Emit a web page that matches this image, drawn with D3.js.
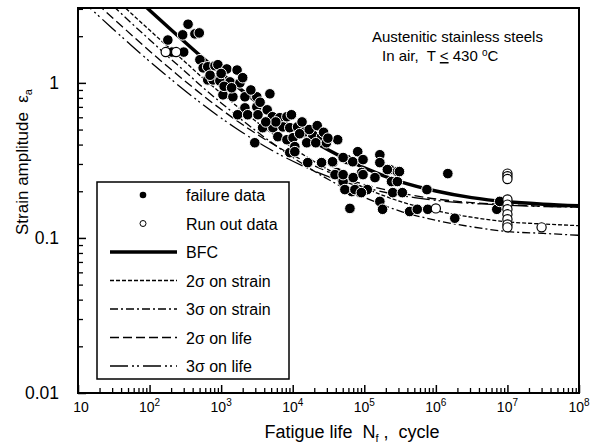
<!DOCTYPE html>
<html>
<head>
<meta charset="utf-8">
<script src="https://cdn.jsdelivr.net/npm/d3@7"></script>
<style>
  body { margin: 0; background: #fff; }
  svg text { font-family: Arial, "Liberation Sans", sans-serif; fill: #000; white-space: pre; }
</style>
</head>
<body>
<svg id="chart" width="598" height="446"></svg>
<script>
// failure data: [cycles, strain amplitude %]
const failureData = [
  [180, 1.89], [290, 2.04], [345, 2.39], [430, 2.07], [495, 2.1],
  [205, 1.58], [300, 1.58], [505, 1.41],
  [560, 1.25], [650, 1.27], [820, 1.29], [900, 1.31], [1200, 1.23], [1670, 1.21],
  [650, 1.045], [770, 1.045], [960, 1.03], [1330, 1.015], [1830, 1.0],
  [1060, 0.837], [1460, 0.813], [2150, 0.813], [3150, 0.813], [4800, 0.85],
  [2150, 0.69], [3150, 0.7], [1700, 0.623], [2350, 0.623], [3270, 0.623], [4400, 0.67],
  [5200, 0.605], [6600, 0.596], [8300, 0.605],
  [3800, 0.514], [5300, 0.514], [7300, 0.52], [9100, 0.514],
  [2950, 0.411], [6200, 0.45], [8300, 0.43], [10100, 0.443], [9100, 0.355], [10700, 0.388],
  [9600, 0.623], [11700, 0.52], [14800, 0.484], [19000, 0.463], [25300, 0.45],
  [15700, 0.411], [21000, 0.411], [29600, 0.411], [42500, 0.43], [10700, 0.36],
  [16200, 0.306], [25300, 0.306], [36500, 0.306], [58000, 0.32], [69000, 0.31], [81000, 0.36],
  [165000, 0.344], [165000, 0.306], [228000, 0.276], [290000, 0.268],
  [41500, 0.264], [50600, 0.231], [67000, 0.199], [87000, 0.196], [110000, 0.205],
  [92000, 0.264], [141000, 0.245], [240000, 0.231], [250000, 0.196],
  [63000, 0.155], [165000, 0.172], [180000, 0.153], [430000, 0.148], [550000, 0.153], [770000, 0.153],
  [750000, 0.205], [1.47e6, 0.26], [1.84e6, 0.134], [7.1e6, 0.153], [7.8e6, 0.172],
  [36000, 0.31], [50600, 0.33], [96000, 0.32], [39000, 0.256], [50600, 0.256], [70000, 0.245], [96000, 0.256],
  [53600, 0.205], [74000, 0.205], [91000, 0.196], [210000, 0.276], [290000, 0.231], [310000, 0.268], [340000, 0.196],
  [1100, 0.95], [1400, 0.93], [2600, 0.9], [3500, 0.75], [5800, 0.56],
  [12500, 0.47], [17000, 0.5], [22000, 0.53], [27000, 0.48], [31000, 0.44],
  [700, 1.12], [1000, 1.15], [2000, 1.08], [4200, 0.56], [13500, 0.56]
];

const runOutData = [
  [168, 1.58], [235, 1.58],
  [1e6, 0.155],
  [1e7, 0.26], [1e7, 0.25], [1e7, 0.24],
  [1e7, 0.177], [1e7, 0.164], [1e7, 0.153], [1e7, 0.142], [1e7, 0.132], [1e7, 0.122], [1e7, 0.117],
  [3e7, 0.117]
];

// curves
const curveN = [10, 17.8, 31.6, 56.2, 100, 178, 316, 562, 1e3, 3.16e3, 1e4, 3.16e4, 1e5, 3.16e5, 1e6, 3.16e6, 1e7, 3.16e7, 1e8];
const bfcStrain = [7.93, 6.17, 4.81, 3.75, 2.94, 2.31, 1.82, 1.44, 1.15, 0.751, 0.512, 0.369, 0.283, 0.231, 0.201, 0.182, 0.171, 0.165, 0.161];
const strain2Sigma = [5.91, 4.6, 3.58, 2.79, 2.19, 1.72, 1.36, 1.07, 0.857, 0.559, 0.381, 0.275, 0.211, 0.172, 0.15, 0.136, 0.127, 0.123, 0.12];
const strain3Sigma = [5.12, 3.99, 3.11, 2.42, 1.9, 1.49, 1.18, 0.93, 0.743, 0.485, 0.331, 0.238, 0.183, 0.149, 0.13, 0.118, 0.11, 0.107, 0.104];

const life2N = [10, 23.3, 41.4, 73.5, 131, 233, 735, 2330, 7350, 23300, 73500, 2.33e5, 7.35e5, 2.33e6, 7.35e6, 2.33e7, 1e8];
const life2Strain = [4.22, 2.94, 2.31, 1.82, 1.44, 1.15, 0.751, 0.512, 0.369, 0.283, 0.231, 0.201, 0.182, 0.171, 0.165, 0.161, 0.158];
const life3N = [10, 15.9, 28.2, 50.2, 89.2, 159, 502, 1590, 5020, 15900, 50200, 1.59e5, 5.02e5, 1.59e6, 5.02e6, 1.59e7, 1e8];
const life3Strain = [3.57, 2.94, 2.31, 1.82, 1.44, 1.15, 0.751, 0.512, 0.369, 0.283, 0.231, 0.201, 0.182, 0.171, 0.165, 0.161, 0.158];

const xTickValues = [1e1, 1e2, 1e3, 1e4, 1e5, 1e6, 1e7, 1e8];
const xTickExponents = ["", "2", "3", "4", "5", "6", "7", "8"];
const yTickValues = [0.01, 0.1, 1];
const yTickLabels = ["0.01", "0.1", "1"];
const legendLabels = ["failure data", "Run out data", "BFC", "2σ on strain", "3σ on strain", "2σ on life", "3σ on life"];

const width = 598;
const height = 446;
const margin = { top: 8, right: 19, bottom: 53, left: 78 };

const xScale = d3.scaleLog().domain([10, 1e8]).range([margin.left, width - margin.right]);
const yScale = d3.scaleLog().domain([0.01, 3.04]).range([height - margin.bottom, margin.top]);

const svg = d3.select("#chart");
svg.append("rect").attr("width", width).attr("height", height).attr("fill", "#fff");

svg.append("clipPath")
  .attr("id", "plotClip")
  .append("rect")
  .attr("x", margin.left)
  .attr("y", margin.top)
  .attr("width", width - margin.left - margin.right)
  .attr("height", height - margin.top - margin.bottom);

// minor tick values per decade
const minorX = [];
for (let e = 1; e < 8; e++) for (let m = 2; m <= 9; m++) minorX.push(m * 10 ** e);
const minorY = [];
for (let e = -2; e < 1; e++) for (let m = 2; m <= 9; m++) if (m * 10 ** e < 3.04) minorY.push(m * 10 ** e);

const xAxisY = height - margin.bottom;

svg.append("g")
  .attr("transform", `translate(0,${xAxisY})`)
  .call(d3.axisBottom(xScale).tickValues(xTickValues).tickSize(-8).tickFormat(""))
  .call((g) => g.select(".domain").remove())
  .selectAll("line").attr("stroke", "#000").attr("stroke-width", 1.5);

svg.append("g")
  .attr("transform", `translate(0,${xAxisY})`)
  .call(d3.axisBottom(xScale).tickValues(minorX).tickSize(-5).tickFormat(""))
  .call((g) => g.select(".domain").remove())
  .selectAll("line").attr("stroke", "#000").attr("stroke-width", 1.3);

svg.append("g")
  .attr("transform", `translate(${margin.left},0)`)
  .call(d3.axisLeft(yScale).tickValues(yTickValues).tickSize(-8).tickFormat(""))
  .call((g) => g.select(".domain").remove())
  .selectAll("line").attr("stroke", "#000").attr("stroke-width", 1.5);

svg.append("g")
  .attr("transform", `translate(${margin.left},0)`)
  .call(d3.axisLeft(yScale).tickValues(minorY).tickSize(-5).tickFormat(""))
  .call((g) => g.select(".domain").remove())
  .selectAll("line").attr("stroke", "#000").attr("stroke-width", 1.3);

// y tick labels
svg.append("g")
  .selectAll("text")
  .data(yTickValues)
  .enter()
  .append("text")
  .attr("x", 59)
  .attr("y", (d) => yScale(d) + 6)
  .attr("text-anchor", "end")
  .style("font-size", "17.5px")
  .text((d, i) => yTickLabels[i]);

// x tick labels with superscript exponents
const xLabels = svg.append("g")
  .selectAll("text")
  .data(xTickValues)
  .enter()
  .append("text")
  .attr("x", (d, i) => xScale(d) + (i === 0 ? 3 : 0))
  .attr("y", 412)
  .attr("text-anchor", "middle")
  .style("font-size", "14px");
xLabels.append("tspan").text("10");
xLabels.append("tspan")
  .attr("dy", -6)
  .style("font-size", "10px")
  .text((d, i) => xTickExponents[i]);

// curves
const line = d3.line()
  .x((d) => xScale(d[0]))
  .y((d) => yScale(d[1]))
  .curve(d3.curveMonotoneX);

const curves = [
  { pts: curveN.map((n, i) => [n, strain2Sigma[i]]), dash: "4,2", w: 1.3 },
  { pts: curveN.map((n, i) => [n, strain3Sigma[i]]), dash: "8,3,2,3", w: 1.3 },
  { pts: life2N.map((n, i) => [n, life2Strain[i]]), dash: "9,4", w: 1.3 },
  { pts: life3N.map((n, i) => [n, life3Strain[i]]), dash: "18,4,2,3,2,4", w: 1.3 },
  { pts: curveN.map((n, i) => [n, bfcStrain[i]]), dash: null, w: 3.5 }
];

svg.append("g")
  .attr("clip-path", "url(#plotClip)")
  .selectAll("path")
  .data(curves)
  .enter()
  .append("path")
  .attr("d", (d) => line(d.pts))
  .attr("fill", "none")
  .attr("stroke", "#000")
  .attr("stroke-width", (d) => d.w)
  .attr("stroke-dasharray", (d) => d.dash);

// data points
const pts = svg.append("g").attr("clip-path", "url(#plotClip)");
pts.selectAll("circle.fail")
  .data(failureData)
  .enter()
  .append("circle")
  .attr("class", "fail")
  .attr("cx", (d) => xScale(d[0]))
  .attr("cy", (d) => yScale(d[1]))
  .attr("r", 5.3)
  .attr("fill", "#000")
  .attr("stroke", "#fff")
  .attr("stroke-width", 1);

pts.selectAll("circle.runout")
  .data(runOutData)
  .enter()
  .append("circle")
  .attr("class", "runout")
  .attr("cx", (d) => xScale(d[0]))
  .attr("cy", (d) => yScale(d[1]))
  .attr("r", 4.6)
  .attr("fill", "#fff")
  .attr("stroke", "#000")
  .attr("stroke-width", 1.2);

// plot frame
svg.append("rect")
  .attr("x", margin.left)
  .attr("y", margin.top)
  .attr("width", width - margin.left - margin.right)
  .attr("height", height - margin.top - margin.bottom)
  .attr("fill", "none")
  .attr("stroke", "#000")
  .attr("stroke-width", 2);

// annotation
svg.append("text")
  .attr("x", 372)
  .attr("y", 42)
  .style("font-size", "15px")
  .text("Austenitic stainless steels");
const note = svg.append("text")
  .attr("x", 382)
  .attr("y", 61)
  .style("font-size", "15px");
note.append("tspan").text("In air,  T ");
note.append("tspan").style("text-decoration", "underline").text("<");
note.append("tspan").text(" 430 ");
note.append("tspan").attr("dy", -5).style("font-size", "10px").text("o");
note.append("tspan").attr("dy", 5).text("C");

// legend
const legend = svg.append("g");
legend.append("rect")
  .attr("x", 97)
  .attr("y", 182)
  .attr("width", 192)
  .attr("height", 197)
  .attr("fill", "#fff")
  .attr("stroke", "#000")
  .attr("stroke-width", 1.5);

const legendY = (i) => 195 + i * 28.5;
legend.append("circle").attr("cx", 143).attr("cy", legendY(0)).attr("r", 3.3).attr("fill", "#000");
legend.append("circle").attr("cx", 143).attr("cy", legendY(1)).attr("r", 3).attr("fill", "#fff").attr("stroke", "#000").attr("stroke-width", 1);

const legendDash = [null, "4,2", "8,3,2,3", "9,4", "18,4,2,3,2,4"];
legend.selectAll("line")
  .data(legendDash)
  .enter()
  .append("line")
  .attr("x1", 110)
  .attr("x2", 177)
  .attr("y1", (d, i) => legendY(i + 2))
  .attr("y2", (d, i) => legendY(i + 2))
  .attr("stroke", "#000")
  .attr("stroke-width", (d, i) => (i === 0 ? 3.5 : 1.3))
  .attr("stroke-dasharray", (d) => d);

legend.selectAll("text")
  .data(legendLabels)
  .enter()
  .append("text")
  .attr("x", 186)
  .attr("y", (d, i) => legendY(i) + 6)
  .style("font-size", "16px")
  .text((d) => d);

// axis titles
const xTitle = svg.append("text")
  .attr("x", 352)
  .attr("y", 438)
  .attr("text-anchor", "middle")
  .style("font-size", "18px");
xTitle.append("tspan").text("Fatigue life  N");
xTitle.append("tspan").attr("dy", 4).style("font-size", "11px").text("f");
xTitle.append("tspan").attr("dy", -4).text(" ,  cycle");

const yTitle = svg.append("text")
  .attr("transform", `translate(28,162) rotate(-90)`)
  .attr("text-anchor", "middle")
  .style("font-size", "17px");
yTitle.append("tspan").text("Strain amplitude  ε");
yTitle.append("tspan").attr("dy", 4).style("font-size", "11px").text("a");
</script>
</body>
</html>
